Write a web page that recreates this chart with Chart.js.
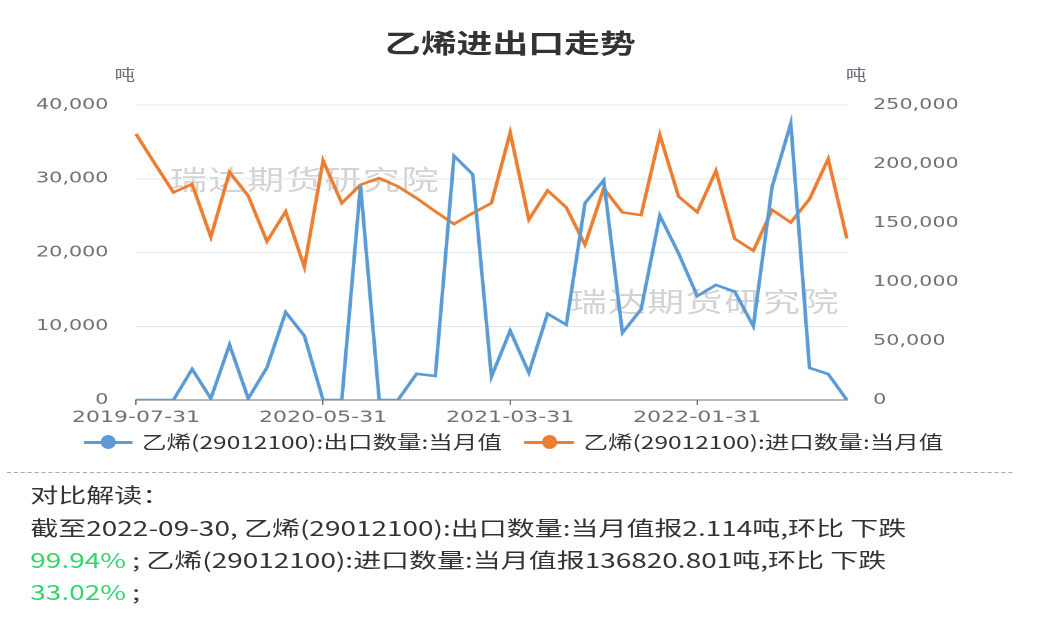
<!DOCTYPE html>
<html>
<head>
<meta charset="utf-8">
<script src="https://cdn.jsdelivr.net/npm/chart.js@4.4.1/dist/chart.umd.min.js"></script>
<style>
  html, body { margin: 0; padding: 0; background: #fff; }
  body { width: 1051px; height: 627px; overflow: hidden; position: relative; font-family: "Noto Sans CJK SC", sans-serif; }
  #wrap { position: absolute; left: 0; top: 0; width: 762px; height: 627px; transform: scaleX(1.3793); transform-origin: 0 0; }
  .abs { position: absolute; white-space: nowrap; }
  #title { left: 370px; top: 27px; transform: translateX(-50%); font-size: 26px; font-weight: bold; color: #333; line-height: 30px; }
  .unit { top: 65px; font-size: 15px; color: #6e7079; line-height: 18px; transform: translateX(-50%); }
  .wm { font-size: 27px; color: rgba(120,120,120,0.33); line-height: 30px; letter-spacing: 1px; }
  #chart { position: absolute; left: 0; top: 0; }
  .leg { top: 430px; font-size: 17.8px; color: #333; line-height: 22px; }
  .icon { position: absolute; top: 441px; height: 3px; }
  .dot { position: absolute; width: 11px; height: 14px; border-radius: 50%; top: 434.5px; }
  #dash { left: 5px; top: 472px; width: 729px; border-top: 1px dashed #aaa; }
  .txt { left: 22px; font-size: 20.3px; color: #333; line-height: 26px; }
  .green { color: #33d46e; }
</style>
</head>
<body>
<div id="wrap">
  <div class="abs wm" style="left:123px;top:164px">瑞达期货研究院</div>
  <div class="abs wm" style="left:413px;top:286px">瑞达期货研究院</div>
  <canvas id="chart" width="762" height="430"></canvas>
  <div id="title" class="abs">乙烯进出口走势</div>
  <div class="abs unit" style="left:90.6px">吨</div>
  <div class="abs unit" style="left:620.7px">吨</div>

  <div class="icon" style="left:61px;width:35px;background:#5b9bd5"></div>
  <div class="dot" style="left:73px;background:#5b9bd5"></div>
  <div class="abs leg" style="left:103px">乙烯(29012100):出口数量:当月值</div>
  <div class="icon" style="left:380px;width:36px;background:#ed7d31"></div>
  <div class="dot" style="left:392.5px;background:#ed7d31"></div>
  <div class="abs leg" style="left:423px">乙烯(29012100):进口数量:当月值</div>

  <div id="dash" class="abs"></div>
  <div class="abs txt" style="top:481px">对比解读：</div>
  <div class="abs txt" style="top:514px">截至2022-09-30, 乙烯(29012100):出口数量:当月值报2.114吨,环比 下跌</div>
  <div class="abs txt" style="top:546px"><span class="green">99.94%</span> ; 乙烯(29012100):进口数量:当月值报136820.801吨,环比 下跌</div>
  <div class="abs txt" style="top:578px"><span class="green">33.02%</span> ;</div>
</div>
<script>
const months = [
  "2019-07-31", "2019-08-31", "2019-09-30", "2019-10-31", "2019-11-30", "2019-12-31",
  "2020-01-31", "2020-02-29", "2020-03-31", "2020-04-30", "2020-05-31", "2020-06-30",
  "2020-07-31", "2020-08-31", "2020-09-30", "2020-10-31", "2020-11-30", "2020-12-31",
  "2021-01-31", "2021-02-28", "2021-03-31", "2021-04-30", "2021-05-31", "2021-06-30",
  "2021-07-31", "2021-08-31", "2021-09-30", "2021-10-31", "2021-11-30", "2021-12-31",
  "2022-01-31", "2022-02-28", "2022-03-31", "2022-04-30", "2022-05-31", "2022-06-30",
  "2022-07-31", "2022-08-31", "2022-09-30",
];

// 出口数量 (左轴, 吨)
const exportQty = [
  0, 0, 0, 4200, 200, 7500, 200, 4400, 11900, 8700, 0, 0,
  29100, 0, 0, 3550, 3250, 33100, 30600, 3150, 9400, 3700, 11700, 10200,
  26700, 29800, 9100, 12300, 25000, 19900, 14100, 15600, 14700, 10000, 28900, 37500,
  4350, 3520, 2.114,
];

// 进口数量 (右轴, 吨)
const importQty = [
  225500, 200500, 175900, 182900, 138100, 193100, 173000, 134400, 159800, 112700, 202900, 166800,
  182400, 188000, 181000, 171000, 159800, 149100, 158400, 166800, 226600, 152800, 177600, 163200,
  131600, 179300, 159000, 156700, 224600, 172500, 159200, 194200, 136700, 126500, 161200, 150500,
  170200, 204270, 136820.801,
];

const leftTicks = [0, 10000, 20000, 30000, 40000];
const rightTicks = [0, 50000, 100000, 150000, 200000, 250000];
const labelEvery = 10;

const axisGray = "#6e7079";
const numFont = { family: "DejaVu Sans", size: 15 };

new Chart(document.getElementById("chart"), {
  type: "line",
  data: {
    labels: months,
    datasets: [
      {
        label: "乙烯(29012100):出口数量:当月值",
        data: exportQty,
        borderColor: "#5b9bd5",
        backgroundColor: "#5b9bd5",
        borderWidth: 2.6,
        pointRadius: 0,
        tension: 0,
        yAxisID: "y",
      },
      {
        label: "乙烯(29012100):进口数量:当月值",
        data: importQty,
        borderColor: "#ed7d31",
        backgroundColor: "#ed7d31",
        borderWidth: 2.6,
        pointRadius: 0,
        tension: 0,
        yAxisID: "y1",
      },
    ],
  },
  options: {
    responsive: false,
    animation: false,
    devicePixelRatio: 2,
    layout: { padding: { top: 105, left: 0, right: 0, bottom: 0 } },
    plugins: { legend: { display: false }, title: { display: false }, tooltip: { enabled: false } },
    scales: {
      x: {
        offset: false,
        afterFit: (s) => { s.height = 30; },
        border: { display: true, color: axisGray, width: 1 },
        grid: { display: true, drawOnChartArea: false, drawTicks: true, tickLength: 5, color: axisGray },
        ticks: {
          autoSkip: false,
          maxRotation: 0,
          padding: 3,
          color: axisGray,
          font: { family: "DejaVu Sans", size: 16 },
          callback: function (v, i) {
            return i % labelEvery === 0 ? this.getLabelForValue(v) : null;
          },
        },
      },
      y: {
        position: "left",
        min: leftTicks[0],
        max: leftTicks[leftTicks.length - 1],
        afterFit: (s) => { s.width = 98.6; },
        afterBuildTicks: (s) => { s.ticks = leftTicks.map((v) => ({ value: v })); },
        border: { display: false },
        grid: { color: "#e0e6f1", drawTicks: false, lineWidth: 1 },
        ticks: { padding: 20, color: axisGray, font: numFont, callback: (v) => v.toLocaleString("en-US") },
      },
      y1: {
        position: "right",
        min: rightTicks[0],
        max: rightTicks[rightTicks.length - 1],
        afterFit: (s) => { s.width = 148; },
        afterBuildTicks: (s) => { s.ticks = rightTicks.map((v) => ({ value: v })); },
        border: { display: false },
        grid: { drawOnChartArea: false, drawTicks: false },
        ticks: { padding: 19, color: axisGray, font: numFont, callback: (v) => v.toLocaleString("en-US") },
      },
    },
  },
});
</script>
</body>
</html>
